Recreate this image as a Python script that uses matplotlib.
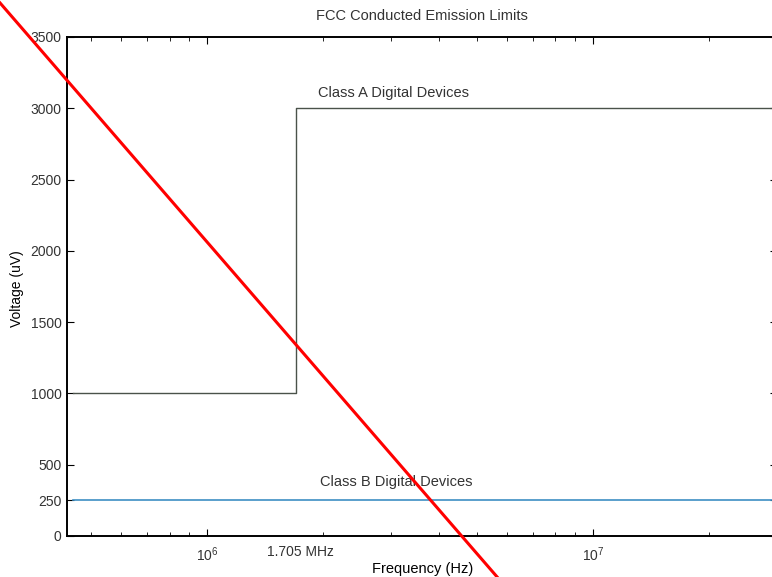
import numpy as np
import matplotlib
matplotlib.use('Agg')
import matplotlib.pyplot as plt
from matplotlib.ticker import LogLocator, NullFormatter
from matplotlib.lines import Line2D

# =============================================================================
# Data (FCC conducted emission limits, uV)
# =============================================================================
class_a_freq = [4.5e5, 1.705e6, 1.705e6, 3.0e7]
class_a_volt = [1000, 1000, 3000, 3000]

class_b_freq = [4.5e5, 3.0e7]
class_b_volt = [250, 250]

y_ticks = [0, 250, 500, 1000, 1500, 2000, 2500, 3000, 3500]
x_lim = [4.34e5, 3.0e7]
y_lim = [0, 3500]

# red strike-through drawn over the scanned figure (figure fraction)
strike_x = [0.0, 0.644]
strike_y = [0.995, 0.0]

# =============================================================================
# Plotting
# =============================================================================
params = {'font.family': ['Liberation Sans', 'DejaVu Sans'],
          'font.size': 10,
          'axes.linewidth': 1.4,
          'xtick.direction': 'in',
          'ytick.direction': 'in',
          'xtick.top': True,
          'ytick.right': True,
          'xtick.major.size': 5,
          'xtick.minor.size': 3,
          'ytick.major.size': 5,
          'text.color': '#333333',
          'xtick.labelcolor': '#333333',
          'ytick.labelcolor': '#333333'}
plt.rcParams.update(params)

fig = plt.figure(figsize=(7.72, 5.77), dpi=100, facecolor='w')
ax = fig.add_axes([0.0868, 0.0711, 0.9197, 0.8648])

ax.plot(class_a_freq, class_a_volt, color='#4a524a', linewidth=1.0)
ax.plot(class_b_freq, class_b_volt, color='#3d8fc4', linewidth=1.2)

ax.set_xscale('log')
ax.set_xlim(x_lim)
ax.set_ylim(y_lim)
ax.set_yticks(y_ticks)
ax.xaxis.set_minor_locator(LogLocator(base=10, subs=np.arange(2, 10)))
ax.xaxis.set_minor_formatter(NullFormatter())
ax.tick_params(axis='x', which='major', pad=7)
ax.tick_params(axis='y', which='major', pad=4)

ax.text(1.75e6, -0.032, '1.705 MHz', transform=ax.get_xaxis_transform(),
        ha='center', va='center', fontsize=10)
ax.text(3.04e6, 3110, 'Class A Digital Devices', ha='center', va='center', fontsize=10.5)
ax.text(3.09e6, 380, 'Class B Digital Devices', ha='center', va='center', fontsize=10.5)

ax.set_title('FCC Conducted Emission Limits', fontsize=10.5, pad=12)
ax.set_xlabel('Frequency (Hz)', fontsize=10.5)
ax.set_ylabel('Voltage (uV)', fontsize=10)
ax.xaxis.set_label_coords(0.501, -0.052)
ax.yaxis.set_label_coords(-0.0606, 0.495)

fig.add_artist(Line2D(strike_x, strike_y, transform=fig.transFigure,
                      color='red', linewidth=2.2))

plt.savefig('out.png', dpi=100)
